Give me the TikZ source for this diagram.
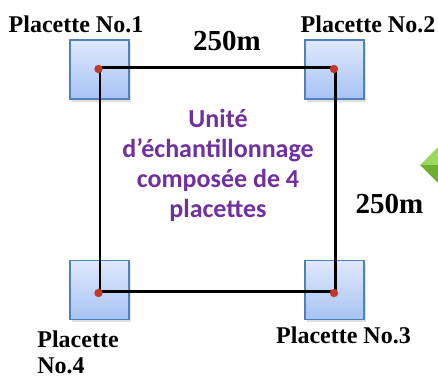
\documentclass[tikz,border=0pt]{standalone}
\usepackage{fontspec}
\setmainfont{Liberation Serif}
\newfontfamily\calibri{Carlito}
\usetikzlibrary{positioning,shadows}
\definecolor{boxedge}{HTML}{4F81BD}
\definecolor{boxtop}{HTML}{DFE8FB}
\definecolor{boxbot}{HTML}{A7C3F4}
\definecolor{dotred}{HTML}{C0392B}
\definecolor{violet}{HTML}{7030A0}
\definecolor{lgreen}{HTML}{9AD85E}
\definecolor{dgreen}{HTML}{6BAF2C}

\begin{document}
\begin{tikzpicture}[x=0.5pt,y=-0.5pt,
  plot/.style={minimum size=29.5pt,inner sep=0pt,draw=boxedge,line width=0.8pt,top color=boxtop,bottom color=boxbot,
    drop shadow={shadow xshift=0.8pt,shadow yshift=-1.3pt,opacity=0.25}},
  lab/.style={font=\bfseries\fontsize{12}{13}\selectfont,inner sep=0pt},
  dist/.style={font=\bfseries\fontsize{14.5}{16}\selectfont,inner sep=0pt,anchor=base}]
\useasboundingbox (0,0) rectangle (438,376);
% plots and corner dots
\foreach \i/\x/\y in {1/99.5/69.5,2/334.5/69.5,3/334.5/290,4/99.5/290}{
  \node[plot] (p\i) at (\x,\y) {};
}
\foreach \i/\x/\y in {1/100/67.5,2/335.5/67.5,3/335.5/291.5,4/100/291.5}
  \coordinate (d\i) at (\x,\y);
\draw[line width=1.2pt] (d1) -- (d2) -- (d3) -- (d4) -- cycle;
\foreach \i in {1,...,4} \fill[dotred] (d\i) ++(-1.5,1.5) circle (2.1pt);
% labels
\node[lab,anchor=base] (l1) at (76,32) {Placette No.1};
\node[lab,anchor=base] (l2) at (368,32) {Placette No.2};
\node[lab,anchor=base] (l3) at (343.5,343) {Placette No.3};
\node[lab,anchor=north west,align=left] (l4) at (37,330.5) {Placette\\No.4};
\node[dist] (w) at (227,50) {250m};
\node[dist] (h) at (389.5,213) {250m};
\node[font=\calibri\bfseries\fontsize{13}{15}\selectfont,text=violet,align=center,inner sep=0pt] (unit) at (218,165)
  {Unité\\d’échantillonnage\\composée de 4\\placettes};
% arrow cut by the right edge
\fill[lgreen] (420,165) -- (438,147) -- (438,165) -- cycle;
\fill[dgreen] (420,165) -- (438,165) -- (438,183) -- cycle;
\end{tikzpicture}
\end{document}
